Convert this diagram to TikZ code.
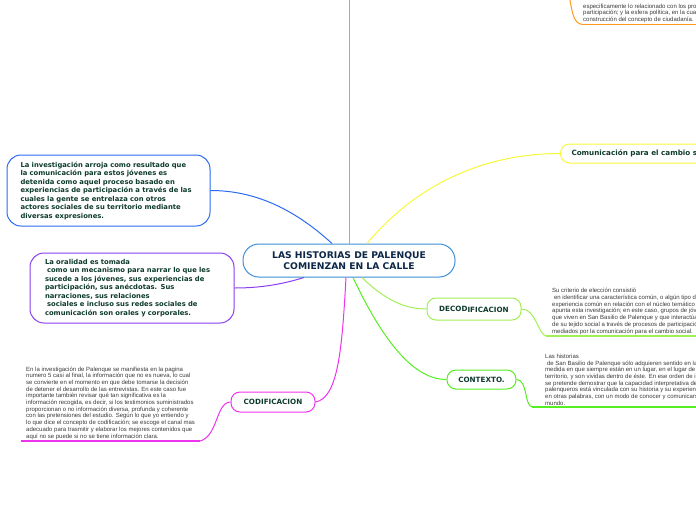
\documentclass[tikz,border=0pt]{standalone}
\usepackage{fontspec}
\setmainfont{DejaVu Sans}
\newfontfamily\notefont{Liberation Sans}
\usepackage{tikz}
\usetikzlibrary{positioning}
\definecolor{rootblue}{HTML}{3C8FD6}
\definecolor{invblue}{HTML}{2B6BF3}
\definecolor{oralpurple}{HTML}{8A3FF0}
\definecolor{codmagenta}{HTML}{EE33EE}
\definecolor{brorange}{HTML}{FF9A1F}
\definecolor{comyellow}{HTML}{F8F83A}
\definecolor{declime}{HTML}{A2EE55}
\definecolor{ctxgreen}{HTML}{55EE22}
\definecolor{txtgreen}{HTML}{0E3B2E}
\definecolor{rootnavy}{HTML}{0D2748}
\definecolor{notegray}{HTML}{3A3A3A}
\tikzset{
  rootbox/.style  = {draw=rootblue, fill=white, line width=1pt, rounded corners=16pt,
                     minimum width=212pt, minimum height=33pt, align=center, text=rootnavy,
                     font=\bfseries\fontsize{9.2}{10.5}\selectfont},
  ideabox/.style  = {fill=white, line width=1pt, rounded corners=14pt, align=left,
                     text width=176pt, inner xsep=13.5pt, inner ysep=0pt, text=txtgreen,
                     font=\bfseries\fontsize{6.8}{8.5}\selectfont},
  topicbox/.style = {fill=white, line width=1pt, rounded corners=9pt, inner xsep=0pt,
                     text=txtgreen, font=\bfseries\fontsize{7.2}{8}\selectfont},
  notetxt/.style  = {anchor=south west, align=left, inner xsep=5pt, inner ysep=1.5pt,
                     text=notegray, font=\notefont\fontsize{6}{6.7}\selectfont},
  branch/.style   = {line width=1pt},
  uline/.style    = {line width=1.6pt},
}
\newcommand{\ind}{\hspace*{0.3em}}

\begin{document}
\begin{tikzpicture}[x=1pt, y=-1pt]
  \useasboundingbox (0,0) rectangle (696,520);
  \clip (0,0) rectangle (696,520);
  % central topic
  \node[rootbox] (root) at (349,260.5) {LAS HISTORIAS DE PALENQUE\\COMIENZAN EN LA CALLE};
  % left ideas
  \node[ideabox, draw=invblue, minimum height=71pt] (inv) at (108.5,190.5)
    {La investigación arroja como resultado que\\
     la comunicación para estos jóvenes es\\
     detenida como aquel proceso basado en\\
     experiencias de participación a través de las\\
     cuales la gente se entrelaza con otros\\
     actores sociales de su territorio mediante\\
     diversas expresiones.};
  \node[ideabox, draw=oralpurple, minimum height=70pt, inner xsep=15pt, text width=174pt] (oral) at (132,288)
    {La oralidad es tomada\\
     \ind como un mecanismo para narrar lo que les\\
     sucede a los jóvenes, sus experiencias de\\
     participación, sus anécdotas. Sus\\
     narraciones, sus relaciones\\
     \ind sociales e incluso sus redes sociales de\\
     comunicación son orales y corporales.};
  % sub topics
  \node[topicbox, draw=codmagenta, minimum width=84pt, minimum height=20pt] (cod) at (273,402) {CODIFICACION};
  \node[topicbox, draw=declime, minimum width=94pt, minimum height=22pt] (dec) at (474,309) {\raisebox{1pt}{DECOD}IFICACION};
  \node[topicbox, draw=ctxgreen, minimum width=69pt, minimum height=19pt] (ctx) at (481.5,379.5) {CONTEXTO.};
  \node[topicbox, draw=comyellow, anchor=west, minimum height=19pt, inner xsep=11pt,
        font=\bfseries\fontsize{7.2}{8}\selectfont] (com) at (560,153.5) {Comunicación para el cambio social};
  % notes
  \node[notetxt] (codtxt) at (21,441)
    {En la investigación de Palenque se manifiesta en la pagina\\
     numero 5 casi al final, la información que no es nueva, lo cual\\
     se convierte en el momento en que debe tomarse la decisión\\
     de detener el desarrollo de las entrevistas. En este caso fue\\
     importante también revisar qué tan significativa es la\\
     información recogida, es decir, si los testimonios suministrados\\
     proporcionan o no información diversa, profunda y coherente\\
     con las pretensiones del estudio. Según lo que yo entiendo y\\
     lo que dice el concepto de codificación; se escoge el canal mas\\
     adecuado para trasmitir y elaborar los mejores contenidos que\\
     aquí no se puede si no se tiene información clara.};
  \node[notetxt, inner xsep=0pt] (dectxt) at (552,336)
    {Su criterio de elección consistió\\
     \ind en identificar una característica común, o algún tipo de\\
     experiencia común en relación con el núcleo temático al que\\
     apunta esta investigación; en este caso, grupos de jóvenes\\
     que viven en San Basilio de Palenque y que interactúan dentro\\
     de su tejido social a través de procesos de participación\\
     mediados por la comunicación para el cambio social.};
  \node[notetxt, inner xsep=0pt] (ctxtxt) at (545,407)
    {Las historias\\
     \ind de San Basilio de Palenque sólo adquieren sentido en la\\
     medida en que siempre están en un lugar, en el lugar de su\\
     territorio, y son vividas dentro de éste. En ese orden de ideas\\
     se pretende demostrar que la capacidad interpretativa de los\\
     palenqueros está vinculada con su historia y su experiencia,\\
     en otras palabras, con un modo de conocer y comunicarse con el\\
     mundo.};
  \node[notetxt, inner xsep=0pt] (toptxt) at (583,24.5)
    {especificamente lo relacionado con los procesos de\\
     participación; y la esfera política, en la cual se\\
     construcción del concepto de ciudadanía.};
  \coordinate (up) at (349,-10);
  \coordinate (upnote) at (568,-10);
  % branches from the central topic
  \draw[branch, brorange] (root.north) -- (up);
  \draw[branch, invblue] ([xshift=-17pt]root.north) .. controls (290,205) and (250,190.5) .. (inv.east);
  \draw[branch, comyellow] ([xshift=18pt]root.north) .. controls (420,180) and (490,153.5) .. (com.west);
  \draw[branch, oralpurple] ([xshift=-45pt]root.south) .. controls (280,285) and (258,288) .. (oral.east);
  \draw[branch, codmagenta] ([xshift=-3pt]root.south) .. controls (342,350) and (338,398) .. (cod.east);
  \draw[branch, ctxgreen] ([xshift=4pt]root.south) .. controls (385,345) and (415,379.5) .. (ctx.west);
  \draw[branch, declime] ([xshift=13pt]root.south) .. controls (385,300) and (405,309) .. (dec.west);
  % links to the notes
  \draw[branch, codmagenta] (cod.west) .. controls (216,402) and (218,436) .. (codtxt.south east);
  \draw[uline, codmagenta] (codtxt.south east) -- (codtxt.south west);
  \draw[branch, declime] (dec.east) .. controls (536,309) and (538,334) .. ([xshift=-6pt]dectxt.south west);
  \draw[uline, declime] ([xshift=-6pt]dectxt.south west) -- (dectxt.south east);
  \draw[branch, ctxgreen] (ctx.east) .. controls (528,380) and (524,405) .. ([xshift=-13pt]ctxtxt.south west);
  \draw[uline, ctxgreen] ([xshift=-13pt]ctxtxt.south west) -- (ctxtxt.south east);
  \draw[branch, brorange] (upnote) .. controls (572,8) and (572,24.5) .. (toptxt.south west);
  \draw[uline, brorange] (toptxt.south west) -- (toptxt.south east);
\end{tikzpicture}
\end{document}
